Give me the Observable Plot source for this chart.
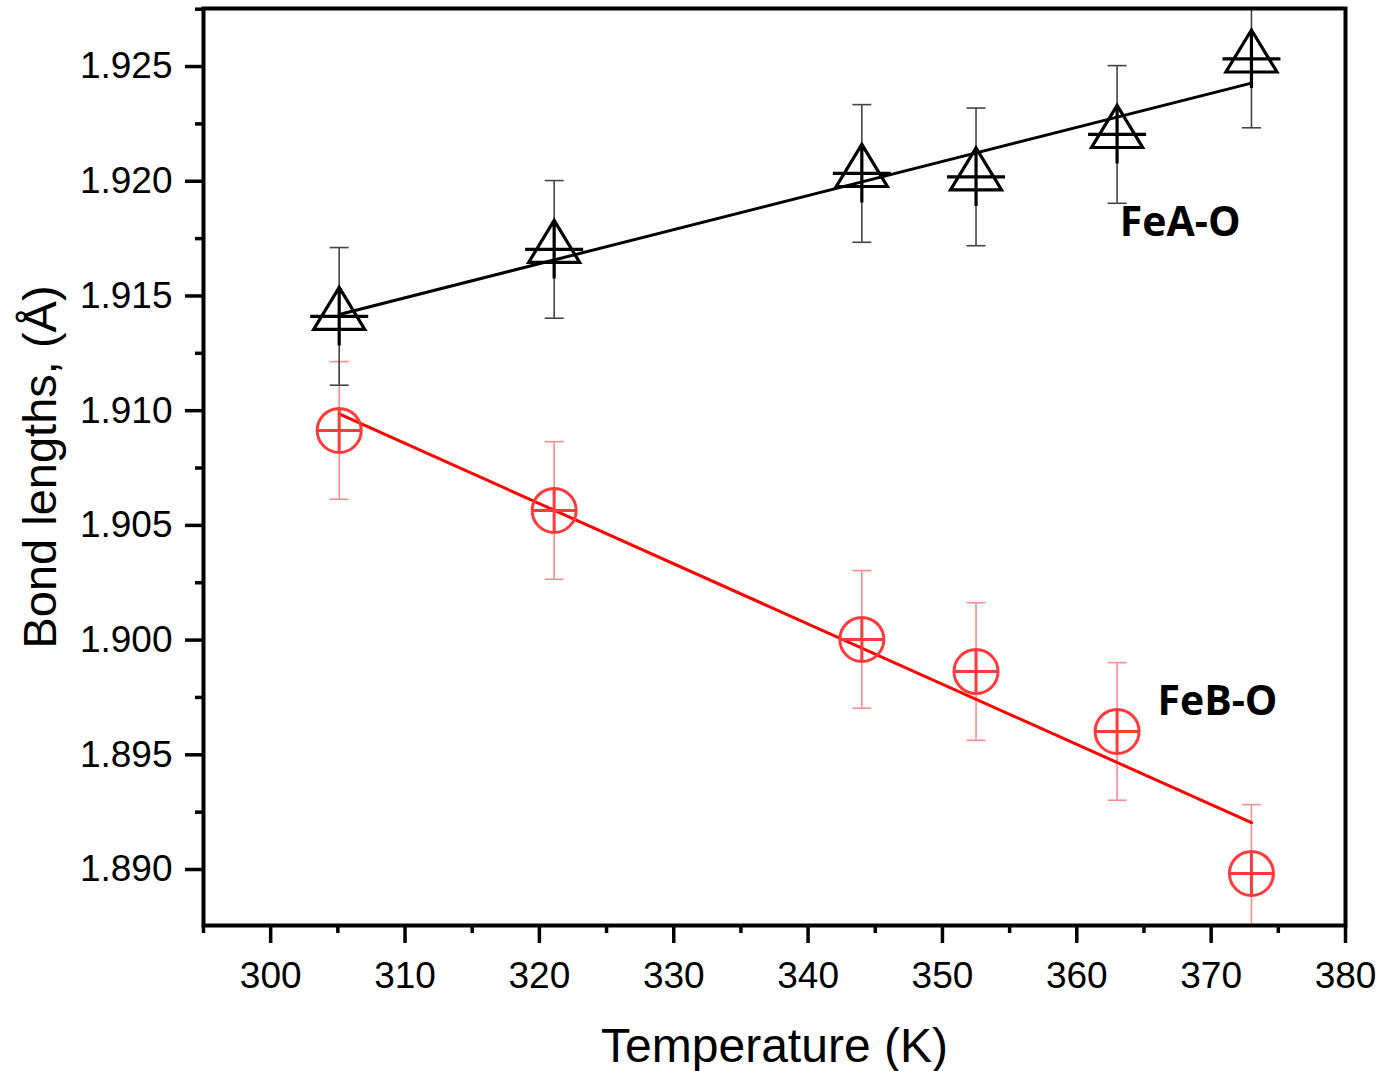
<!DOCTYPE html>
<html><head><meta charset="utf-8">
<script src="https://cdn.jsdelivr.net/npm/d3@7"></script>
<script src="https://cdn.jsdelivr.net/npm/@observablehq/plot@0.6"></script>
<style>body{margin:0;background:#fff}</style>
</head><body><div id="chart"></div>
<script>
const temperature = [305.1, 321.1, 344.0, 352.5, 363.0, 373.0];
const feA = [1.91411, 1.91703, 1.92034, 1.92019, 1.92204, 1.92533];
const feB = [1.90914, 1.90565, 1.90003, 1.89863, 1.89602, 1.88983];
const errA = [0.003, 0.003, 0.003, 0.003, 0.003, 0.003];
const errB = [0.003, 0.003, 0.003, 0.003, 0.003, 0.003];
const seriesNames = ["FeA-O", "FeB-O"];
const xTicks = [300, 310, 320, 330, 340, 350, 360, 370, 380];
const xMinor = [295, 305, 315, 325, 335, 345, 355, 365, 375];
const yTicks = [1.890, 1.895, 1.900, 1.905, 1.910, 1.915, 1.920, 1.925];
const yMinor = [1.8925, 1.8975, 1.9025, 1.9075, 1.9125, 1.9175, 1.9225, 1.9275];

const dataA = temperature.map((t, i) => ({t, v: feA[i], e: errA[i]}));
const dataB = temperature.map((t, i) => ({t, v: feB[i], e: errB[i]}));

const triPlus = {draw(ctx, size) {
  const r = Math.sqrt(size / Math.PI);
  ctx.moveTo(0, -r); ctx.lineTo(0.88 * r, 0.45 * r); ctx.lineTo(-0.88 * r, 0.45 * r); ctx.closePath();
  ctx.moveTo(-r, 0); ctx.lineTo(r, 0);
  ctx.moveTo(0, -r); ctx.lineTo(0, r);
}};
const circPlus = {draw(ctx, size) {
  const r = Math.sqrt(size / Math.PI);
  ctx.moveTo(r, 0); ctx.arc(0, 0, r, 0, 2 * Math.PI);
  ctx.moveTo(-r, 0); ctx.lineTo(r, 0);
  ctx.moveTo(0, -r); ctx.lineTo(0, r);
}};
const cap = {draw(ctx, size) {
  const r = Math.sqrt(size / Math.PI);
  ctx.moveTo(-r, 0); ctx.lineTo(r, 0);
}};

const redMarker = "#ff3a3a";
const redErr = "#ff8c8c";

const chart = Plot.plot({
  width: 1383, height: 1071,
  marginLeft: 203, marginRight: 38, marginTop: 8, marginBottom: 146,
  x: {domain: [295, 380], label: null},
  y: {domain: [1.88756, 1.92753], label: null},
  style: {fontFamily: "'Liberation Sans', Arial, sans-serif", background: "white", color: "black"},
  marks: [
    // error bars
    Plot.ruleX(dataB, {x: "t", y1: d => d.v - d.e, y2: d => d.v + d.e, stroke: redErr, strokeWidth: 1.6, clip: true}),
    Plot.dot(dataB, {x: "t", y: d => d.v + d.e, symbol: cap, r: 9.5, stroke: redErr, strokeWidth: 1.6, fill: "none", clip: true}),
    Plot.dot(dataB, {x: "t", y: d => d.v - d.e, symbol: cap, r: 9.5, stroke: redErr, strokeWidth: 1.6, fill: "none", clip: true}),
    Plot.ruleX(dataA, {x: "t", y1: d => d.v - d.e, y2: d => d.v + d.e, stroke: "#444", strokeWidth: 1.6, clip: true}),
    Plot.dot(dataA, {x: "t", y: d => d.v + d.e, symbol: cap, r: 9.5, stroke: "#444", strokeWidth: 1.6, fill: "none", clip: true}),
    Plot.dot(dataA, {x: "t", y: d => d.v - d.e, symbol: cap, r: 9.5, stroke: "#444", strokeWidth: 1.6, fill: "none", clip: true}),
    // fits
    Plot.linearRegressionY(dataA, {x: "t", y: "v", stroke: "black", strokeWidth: 3, ci: 0}),
    Plot.linearRegressionY(dataB, {x: "t", y: "v", stroke: "#ff0000", strokeWidth: 3, ci: 0}),
    // markers
    Plot.dot(dataA, {x: "t", y: "v", symbol: triPlus, r: 29, stroke: "black", strokeWidth: 3.2, fill: "none"}),
    Plot.dot(dataB, {x: "t", y: "v", symbol: circPlus, r: 22, stroke: redMarker, strokeWidth: 3, fill: "none"}),
    // series labels
    Plot.text([seriesNames[0]], {x: () => 363.2, y: () => 1.9182, text: d => d, textAnchor: "start", fontSize: 41, fontWeight: "bold", fontFamily: "'Open Sans', sans-serif", fill: "black"}),
    Plot.text([seriesNames[1]], {x: () => 366.0, y: () => 1.8973, text: d => d, textAnchor: "start", fontSize: 41, fontWeight: "bold", fontFamily: "'Open Sans', sans-serif", fill: "black"}),
    // axes
    Plot.axisX(xTicks, {tickSize: 18, tickPadding: 18, fontSize: 37, strokeWidth: 3.5, label: null, tickFormat: d => String(d)}),
    Plot.axisX(xMinor, {tickSize: 8, text: null, label: null, strokeWidth: 3.5}),
    Plot.axisY(yTicks, {tickSize: 18, tickPadding: 13, fontSize: 37, strokeWidth: 3.5, label: null, tickFormat: d3.format(".3f")}),
    Plot.axisY(yMinor, {tickSize: 8, text: null, label: null, strokeWidth: 3.5}),
    Plot.frame({stroke: "black", strokeWidth: 4}),
    // axis titles
    Plot.text(["Temperature (K)"], {frameAnchor: "bottom", textAnchor: "middle", lineAnchor: "top", dy: 102, fontSize: 48, fill: "black"}),
    Plot.text(["Bond lengths, (Å)"], {frameAnchor: "left", textAnchor: "middle", lineAnchor: "middle", rotate: -90, dx: -163, fontSize: 47, fill: "black"})
  ]
});
document.getElementById("chart").appendChild(chart);
</script>
</body></html>
